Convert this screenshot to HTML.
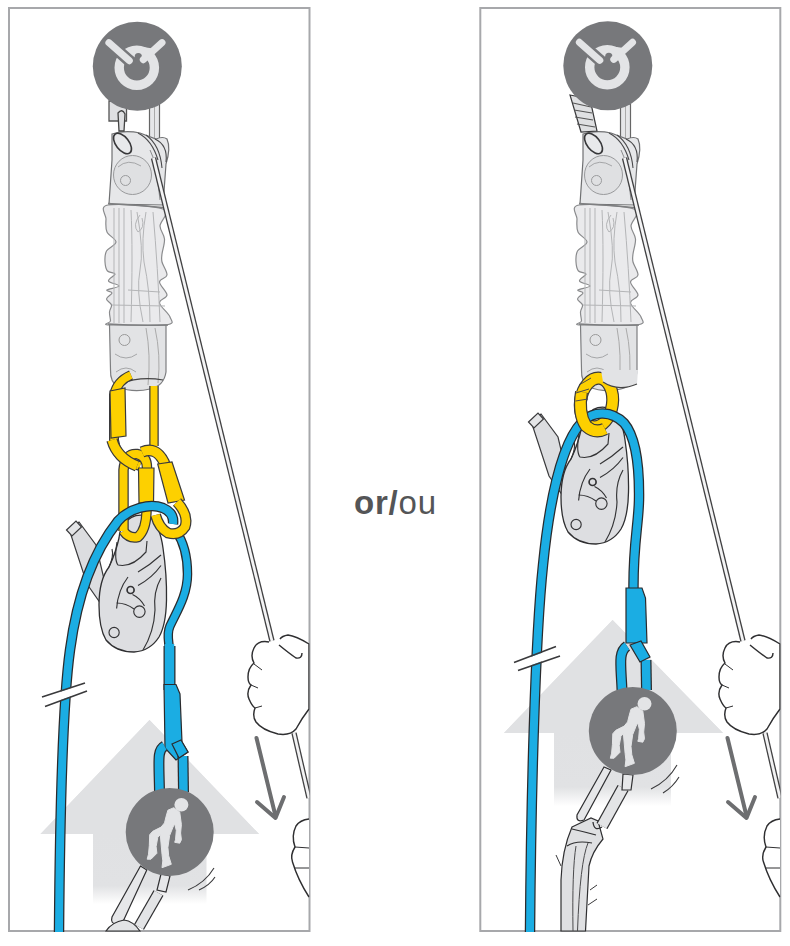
<!DOCTYPE html>
<html><head><meta charset="utf-8">
<style>
html,body{margin:0;padding:0;background:#fff;width:790px;height:946px;overflow:hidden}
svg{display:block;position:absolute;left:0;top:0}
.txt{position:absolute;left:354px;top:483px;font-family:"Liberation Sans",sans-serif;font-size:33px;color:#545557;letter-spacing:0.8px;white-space:nowrap;line-height:40px}
.txt b{font-weight:bold}
</style></head>
<body>
<svg width="790" height="946" viewBox="0 0 790 946">
<defs>
  <linearGradient id="fadeL" gradientUnits="userSpaceOnUse" x1="0" y1="834" x2="0" y2="904">
    <stop offset="0" stop-color="#e0e1e3"/>
    <stop offset="0.74" stop-color="#e1e2e4"/>
    <stop offset="1" stop-color="#ffffff"/>
  </linearGradient>
  <linearGradient id="fadeR" gradientUnits="userSpaceOnUse" x1="0" y1="733" x2="0" y2="806">
    <stop offset="0" stop-color="#e0e1e3"/>
    <stop offset="0.74" stop-color="#e1e2e4"/>
    <stop offset="1" stop-color="#ffffff"/>
  </linearGradient>

  <!-- anchor icon (centered at 0,0) -->
  <g id="anchor">
    <circle cx="0" cy="0" r="44.5" fill="#77787b"/>
    <circle cx="-0.5" cy="1.5" r="17.6" fill="none" stroke="#e3e4e6" stroke-width="9.4"/>
    <path d="M-11,-15 Q-2,-21 14,-18 L17,-13 Q8,-9 6,-6 Q2,-11 -3,-9 Z" fill="#e3e4e6"/>
    <circle cx="1" cy="-9.5" r="3.6" fill="#77787b"/>
    <line x1="-28.4" y1="-23.5" x2="-8" y2="-5.5" stroke="#77787b" stroke-width="12" stroke-linecap="round"/>
    <line x1="-28.4" y1="-23.5" x2="-8" y2="-5.5" stroke="#e3e4e6" stroke-width="7" stroke-linecap="round"/>
    <line x1="24.7" y1="-23.5" x2="6" y2="-6.5" stroke="#e3e4e6" stroke-width="7" stroke-linecap="round"/>
  </g>

  <!-- top device (left panel coords) -->
  <g id="device">
    <rect x="149.5" y="104" width="10" height="36" fill="#e6e7e9" stroke="#666" stroke-width="1.2"/>
    <line x1="154.5" y1="106" x2="154.5" y2="138" stroke="#aaa" stroke-width="1"/>
    <!-- sleeve -->
    <path d="M108.0,205.0 C98.5,206.7 106.2,214.5 106.0,219.0 C105.8,223.5 105.3,228.2 107.0,232.0 C108.7,235.8 116.1,238.8 116.0,242.0 C115.9,245.2 108.3,247.7 106.5,251.0 C104.7,254.3 104.8,258.7 105.0,262.0 C105.2,265.3 105.8,269.0 107.5,271.0 C109.2,273.0 114.8,272.3 115.0,274.0 C115.2,275.7 107.8,279.0 108.5,281.0 C109.2,283.0 119.2,284.5 119.0,286.0 C118.8,287.5 108.2,288.8 107.0,290.0 C105.8,291.2 112.1,291.5 112.0,293.0 C111.9,294.5 106.6,297.0 106.5,299.0 C106.4,301.0 111.0,302.8 111.5,305.0 C112.0,307.2 109.7,309.3 109.5,312.0 C109.3,314.7 110.5,318.8 110.5,321.0 C110.5,323.2 100.2,324.3 109.5,325.0 C118.8,325.7 155.9,326.3 166.0,325.0 C176.1,323.7 171.1,320.7 170.0,317.0 C168.9,313.3 160.0,306.7 159.5,303.0 C159.0,299.3 167.0,298.5 167.0,295.0 C167.0,291.5 159.5,285.3 159.5,282.0 C159.5,278.7 166.6,278.3 167.0,275.0 C167.4,271.7 162.8,265.5 162.0,262.0 C161.2,258.5 161.6,257.8 162.0,254.0 C162.4,250.2 164.8,243.7 164.5,239.0 C164.2,234.3 160.2,231.0 160.0,226.0 C159.8,221.0 171.7,212.5 163.0,209.0 C154.3,205.5 117.5,203.3 108.0,205.0 Z" fill="#eaeaec" stroke="#8a8b8d" stroke-width="1.2"/>
    <g stroke="#b4b5b7" stroke-width="1" fill="none">
      <line x1="114" y1="208" x2="114" y2="323"/>
      <line x1="119" y1="208" x2="119" y2="323"/>
      <line x1="124" y1="208" x2="124" y2="323"/>
      <path d="M131,210 Q133,250 131,322"/>
      <path d="M137,212 Q144,250 140,270 Q136,290 143,322"/>
      <path d="M146,212 Q141,240 144,262 Q150,290 150,322"/>
      <path d="M153,212 Q158,270 160,322"/>
      <path d="M140,215 Q132,225 138,232 Q145,228 142,218"/>
      <line x1="128" y1="290" x2="160" y2="292"/>
      <line x1="112" y1="305" x2="165" y2="306"/>
    </g>
    <!-- top section -->
    <path d="M112,134 Q125,130 140,133 L156,139 Q163,136 167,139 Q171,148 166,164 L163,205 L109,204 L112,160 Z" fill="#e6e7e9" stroke="#6f7072" stroke-width="1.2"/>
    <ellipse cx="132.5" cy="175" rx="19" ry="19.5" fill="#dfe0e2" stroke="#999a9c" stroke-width="1"/>
    <circle cx="125.5" cy="180.5" r="5" fill="none" stroke="#9a9b9d" stroke-width="1"/>
    <path d="M118,167 Q128,158 141,166" fill="none" stroke="#a5a6a8" stroke-width="1"/>
    <g fill="none" stroke="#4a4a4c" stroke-width="1.1">
      <path d="M138,133 Q152,140 158,160"/>
      <path d="M146,135 Q160,145 162,168"/>
      <path d="M155,139 Q168,145 166,162"/>
    </g>
    <path d="M150,150 Q156,160 160,200" fill="none" stroke="#8a8b8d" stroke-width="1"/>
    <ellipse cx="122.5" cy="143.5" rx="6.5" ry="12" transform="rotate(-38 122.5 143.5)" fill="#e8e9eb" stroke="#38383a" stroke-width="1.6"/>
    <path d="M108,203.5 Q135,205 163,207.5" fill="none" stroke="#7e7f81" stroke-width="1.3"/>
    <!-- bottom section -->
    <path d="M109.5,325 L166,325 L166,372 Q164,386 150,389 Q133,393 118,387 Q110,382 110.5,370 Z" fill="#e2e3e5" stroke="#7d7e80" stroke-width="1.2"/>
    <path d="M108,324 Q138,326 168,325" fill="none" stroke="#7e7f81" stroke-width="1.3"/>
    <circle cx="124.5" cy="340" r="5.5" fill="none" stroke="#999" stroke-width="1"/>
    <path d="M115,354 Q126,362 137,354 M116,372 Q126,364 136,372" fill="none" stroke="#a5a6a8" stroke-width="1"/>
    <path d="M146,328 Q151,355 148,385" fill="none" stroke="#aaa" stroke-width="1"/>
    <path d="M155,328 Q161,355 158,383" fill="none" stroke="#aaa" stroke-width="1"/>
    <path d="M120,384 Q140,376 163,380" fill="none" stroke="#444" stroke-width="1.2"/>
    <!-- thin rope -->
    <path d="M153.5,158 L272,641" stroke="#404042" stroke-width="5.4" fill="none"/>
    <path d="M153.5,158 L272,641" stroke="#f4f4f5" stroke-width="2.8" fill="none"/>
  </g>

  <clipPath id="handClip"><rect x="0" y="0" width="309.5" height="946"/></clipPath>
  <g id="hand">
   <g clip-path="url(#handClip)">
    <path d="M294,733 L309,798" stroke="#404042" stroke-width="5.4" fill="none"/>
    <path d="M294,733 L309,798" stroke="#f2f2f3" stroke-width="2.8" fill="none"/>
    <path d="M269,642 Q258,640 254,648 Q250,656 254,663 Q248,668 248,677 Q248,683 251,685 Q246,692 249,699 Q252,706 255,708 Q252,716 256,722 Q262,730 278,734 Q290,736 296,729 Q302,718 309,709 L309,644 Q296,636 288,635 Q282,636 280,639" fill="#fff" stroke="#2f2f31" stroke-width="1.45"/>
    <path d="M279,645 Q290,654 296,658 Q302,659 302,653" fill="none" stroke="#2f2f31" stroke-width="1.45"/>
    <path d="M254,664 L262,670 M251,685 L258,688 M255,708 L262,706" fill="none" stroke="#2f2f31" stroke-width="1"/>
    <path d="M309,819 Q300,820 296,826 Q291,836 295,847 Q290,855 292.5,862 Q298,880 309,897" fill="#fff" stroke="#2f2f31" stroke-width="1.45"/>
    <path d="M295,847 L309,848 M294,868 L309,868" stroke="#2f2f31" stroke-width="1"/>
    <path d="M256.5,738 L275.5,816" stroke="#6d6e70" stroke-width="4" fill="none" stroke-linecap="round"/>
    <path d="M257,802 L275.5,818 L284,797" stroke="#6d6e70" stroke-width="4" fill="none" stroke-linecap="round" stroke-linejoin="round"/>
    </g>
  </g>

  <!-- pulley device (left panel coords) -->
  <g id="pulley">
    <path d="M69,529 L79,522 L96,545 L108,596 L101,604 L87,584 Z" fill="#dcdde0" stroke="#3a3a3c" stroke-width="1.2"/>
    <path d="M66.5,530 L76,521 L81.5,527 L72,536 Z" fill="#e4e5e7" stroke="#3a3a3c" stroke-width="1.2"/>
    <path d="M124,524 Q134,511 150,517 Q160,526 163,548 Q167,575 166.5,600 Q166,625 159,637 Q150,651 134,652 Q116,652 106,640 Q99,628 99,605 Q99,580 109,567 Q116,552 119,538 Q120,528 124,524 Z" fill="#dddee1" stroke="#2f2f31" stroke-width="1.3"/>
    <g fill="none" stroke="#333335" stroke-width="1.15">
      <path d="M117,542 Q114,560 118,565 Q132,568 146,552 L147,541"/>
      <path d="M138,572 Q150,565 161,555"/>
      <path d="M138,585.5 Q152,578 161,565.5"/>
      <path d="M161,578 Q153,592 155,610 Q154,632 143,650"/>
      <path d="M128,577 Q118,590 116.6,608.5"/>
      <path d="M116.6,603 Q126,603 134,609"/>
      <path d="M132.5,594.5 Q140,598 144.5,606"/>
      <circle cx="130.6" cy="590" r="3.5" stroke-width="1.7"/>
      <circle cx="139.4" cy="611.6" r="5.7"/>
      <circle cx="114.1" cy="632.5" r="5.1"/>
      <path d="M109,567 Q114,556 112,549"/>
    </g>
  </g>

  <!-- person icon circle, centered 0,0 -->
  <g id="person">
    <circle cx="0" cy="0" r="44" fill="#77787b"/>
    <ellipse cx="11.7" cy="-27.3" rx="7" ry="6.8" fill="#e3e4e6"/>
    <path d="M4.1,-24.3 L-1.8,-21.8 L-3.5,-15.9 L-5.2,-9.1 L-8.6,-4.9 L-17.0,-0.7 L-20.0,2.7 L-20.4,13.7 L-21.2,22.2 L-22.5,27.2 L-18.7,27.2 L-12.8,21.3 L-13.6,14.6 L-11.9,5.3 L-9.4,2.7 L-8.6,12.0 L-7.7,22.2 L-6.9,28.9 L-7.7,35.7 L1.6,32.3 L-1.0,23.8 L-1.8,15.4 L-0.1,3.6 L3.3,-4.9 L5.0,-8.3 L6.6,-1.5 L5.8,7.8 L5.0,10.3 L10.0,11.2 L11.7,7.8 L10.9,1.0 L11.7,-7.4 L10.0,-20.1 L7.5,-21.8 Z" fill="#e3e4e6" stroke="#e3e4e6" stroke-width="1" stroke-linejoin="round"/>
  </g>
</defs>

<rect x="9" y="8" width="300.5" height="923" fill="none" stroke="#a7a8ab" stroke-width="2"/>
<rect x="480.3" y="8" width="300" height="923" fill="none" stroke="#a7a8ab" stroke-width="2"/>
<g id="LEFT">
  <!-- big arrow -->
  <path d="M149.5,720 L259,834 L206.5,834 L206.5,904 L93,904 L93,834 L40.5,834 Z" fill="url(#fadeL)"/>
  <path d="M149.5,720 L259,834 L40.5,834 Z" fill="#e0e1e3"/>
  <use href="#device"/>
  <!-- quick link under anchor -->
  <path d="M109,101 L126.5,101 L126.5,121 L109,121 Z" fill="#dfe0e2" stroke="#555" stroke-width="1.3"/>
  <path d="M118,113 Q122,108 125,114 L124,131 L119,131 Z" fill="#dfe0e2" stroke="#444" stroke-width="1.3"/>
  <use href="#hand"/>

  <!-- yellow carabiner 1 -->
  <path d="M131,375 Q117,381 114,395 L114,440 Q116,456 128,462 L140,466" fill="none" stroke="#3a3a3c" stroke-width="10" stroke-linecap="butt"/>
  <path d="M131,375 Q117,381 114,395 L114,440 Q116,456 128,462 L140,466" fill="none" stroke="#fdd000" stroke-width="7.5" stroke-linecap="butt"/>
  <path d="M154,386 L154,446" fill="none" stroke="#3a3a3c" stroke-width="9.5" stroke-linecap="butt"/>
  <path d="M154,386 L154,446" fill="none" stroke="#fdd000" stroke-width="7" stroke-linecap="butt"/>
  <path d="M110,391 L125,388 L126,436 L111,438 Z" fill="#fdd000" stroke="#3a3a3c" stroke-width="1.2"/>
  <use href="#pulley"/>
  <!-- yellow carabiner 2 -->
  <path d="M123.5,531 L123.5,470 Q125,453 137,454 Q147,456 147,468 L146.5,512 Q146,530 138,537 Q129,539 123.5,531" fill="none" stroke="#3a3a3c" stroke-width="10.5" stroke-linecap="butt"/>
  <path d="M123.5,531 L123.5,470 Q125,453 137,454 Q147,456 147,468 L146.5,512 Q146,530 138,537 Q129,539 123.5,531" fill="none" stroke="#fdd000" stroke-width="8" stroke-linecap="butt"/>
  <path d="M138.5,468 L154,468 L153.5,503 L139,503 Z" fill="#fdd000" stroke="#3a3a3c" stroke-width="1.2"/>
  <!-- carabiner 1 bottom band -->
  <path d="M112,440 Q117,458 137,466" fill="none" stroke="#3a3a3c" stroke-width="11.5" stroke-linecap="butt"/>
  <path d="M112,440 Q117,458 137,466" fill="none" stroke="#fdd000" stroke-width="9" stroke-linecap="butt"/>
  <!-- yellow carabiner 3 -->
  <path d="M142,452 Q156,446 164,462 L176,500" fill="none" stroke="#3a3a3c" stroke-width="11.5" stroke-linecap="butt"/>
  <path d="M142,452 Q156,446 164,462 L176,500" fill="none" stroke="#fdd000" stroke-width="9" stroke-linecap="butt"/>
  <path d="M157.7,464 L172,462 L184.5,500 L168,503 Z" fill="#fdd000" stroke="#3a3a3c" stroke-width="1.2"/>
  <!-- blue rope arch + left strand -->
  <path d="M59,932 C60,800 63,700 70,650 C78,590 95,550 118,521 C130,508 150,503 163,508 C170,511 174,516 173,524" fill="none" stroke="#2b2b2d" stroke-width="10.5"/>
  <path d="M59,932 C60,800 63,700 70,650 C78,590 95,550 118,521 C130,508 150,503 163,508 C170,511 174,516 173,524" fill="none" stroke="#1badE3" stroke-width="8"/>
  <!-- right strand -->
  <path d="M176,531 C183,541 187.5,556 187.5,574 C187.5,595 177,611 170,626 C166,635 169.5,642 169.5,652 L169.5,690" fill="none" stroke="#2b2b2d" stroke-width="9.5"/>
  <path d="M176,531 C183,541 187.5,556 187.5,574 C187.5,595 177,611 170,626 C166,635 169.5,642 169.5,652 L169.5,690" fill="none" stroke="#1badE3" stroke-width="7"/>
  <path d="M169.5,646 L169.5,690" fill="none" stroke="#2b2b2d" stroke-width="12"/>
  <path d="M169.5,644 L169.5,690" fill="none" stroke="#1badE3" stroke-width="9.5"/>
  <!-- hook of carabiner 3 -->
  <path d="M177,502 Q189,515 185,527 Q179,536 168,533 Q159,528 155.5,515" fill="none" stroke="#3a3a3c" stroke-width="11" stroke-linecap="butt"/>
  <path d="M177,502 Q189,515 185,527 Q179,536 168,533 Q159,528 155.5,515" fill="none" stroke="#fdd000" stroke-width="8.5" stroke-linecap="butt"/>

  <!-- termination -->
  <path d="M164,684.5 L176,684.5 L180,694 L182,742 L188,752 L176,760 L165,748 Z" fill="#1badE3" stroke="#2b2b2d" stroke-width="1.2"/>
  <path d="M164.5,746 C157,750 159,760 159.5,792" fill="none" stroke="#2b2b2d" stroke-width="11"/>
  <path d="M164.5,746 C157,750 159,760 159.5,792" fill="none" stroke="#1badE3" stroke-width="8.5"/>
  <path d="M183,756 L183.5,792" fill="none" stroke="#2b2b2d" stroke-width="11"/>
  <path d="M183,756 L183.5,792" fill="none" stroke="#1badE3" stroke-width="8.5"/>
  <path d="M172,744 L181,740 L188,752 L179,758 Z" fill="#1badE3" stroke="#2b2b2d" stroke-width="1.2"/>

  <!-- break marks -->
  <path d="M43.5,701.8 L86,687" stroke="#fff" stroke-width="8"/>
  <path d="M42,697 L85,683 M45,706.5 L87,691" stroke="#3a3a3c" stroke-width="1.6"/>

  <!-- lanyard -->
  <path d="M140.5,866 L112,917 Q110,924 117,924 L122.8,922 L146.8,870 Z" fill="#e6e7e9" stroke="#2f2f31" stroke-width="1.2"/>
  <path d="M158.5,893 L139,927" stroke="#2f2f31" stroke-width="11.5"/>
  <path d="M158.5,893 L139,927" stroke="#e3e4e6" stroke-width="9"/>
  <path d="M161,874 L170,876 L166,892 L157,890 Z" fill="#e6e7e9" stroke="#2f2f31" stroke-width="1.2"/>
  <path d="M106,931 Q112,922 124,920 Q133,921 140,931 Z" fill="#e3e4e6" stroke="#2f2f31" stroke-width="1.2"/>
  <path d="M188,890 Q205,883 214,868 M199,890 Q210,885 215,877" fill="none" stroke="#3a3a3c" stroke-width="1.1"/>

  <!-- person circle -->
  <use href="#person" x="169.7" y="832"/>
  <!-- anchor -->
  <use href="#anchor" x="137.3" y="66.2"/>
</g>

<g id="RIGHT">
  <path d="M612.6,620 L723,733 L671,733 L671,806 L554,806 L554,733 L504,733 Z" fill="url(#fadeR)"/>
  <path d="M612.6,620 L723,733 L504,733 Z" fill="#e0e1e3"/>
  <use href="#device" x="471"/>
  <!-- sling under anchor -->
  <path d="M570,95 L590,99 L597,131 L581,132 Z" fill="#dfe0e2" stroke="#3a3a3c" stroke-width="1.2"/>
  <path d="M573,103 L591,107 M574,110 L592,113 M575,117 L593,120 M577,124 L595,127" stroke="#555" stroke-width="1.2"/>
  <use href="#hand" x="471"/>

  <!-- pulley -->
  <use href="#pulley" x="462" y="-108"/>

  <!-- yellow ring back part -->
  <ellipse cx="596.5" cy="402.5" rx="16" ry="24.5" transform="rotate(8 596.5 402.5)" fill="none" stroke="#3a3a3c" stroke-width="13"/>
  <ellipse cx="596.5" cy="402.5" rx="16" ry="24.5" transform="rotate(8 596.5 402.5)" fill="none" stroke="#fdd000" stroke-width="10.6"/>

  <path d="M601,370 L603,382 Q618,392 637,384 L638,370 Z" fill="#e2e3e5"/>
  <path d="M603,382 Q618,392 637,384" fill="none" stroke="#444" stroke-width="1.2"/>
  <!-- blue rope -->
  <path d="M530,932 C531,800 535,640 543,565 C550,495 563,442 582,422 C594,410 612,411 624,423 C636,437 639.5,468 639,500 C638.5,525 633,545 633.5,590" fill="none" stroke="#2b2b2d" stroke-width="10.5"/>
  <path d="M530,932 C531,800 535,640 543,565 C550,495 563,442 582,422 C594,410 612,411 624,423 C636,437 639.5,468 639,500 C638.5,525 633,545 633.5,590" fill="none" stroke="#1badE3" stroke-width="8"/>

  <!-- ring front (left-bottom) part -->
  <path d="M581.5,392 Q578,414 586,426 Q595,434 605,429" fill="none" stroke="#3a3a3c" stroke-width="13"/>
  <path d="M581.5,392 Q578,414 586,426 Q595,434 605,429" fill="none" stroke="#fdd000" stroke-width="10.6"/>
  <path d="M579,385 L591,378 M576,393 L589,389 M575.5,401 L588,399" stroke="#4a4a4c" stroke-width="1"/>

  <!-- termination -->
  <path d="M626,588 L642,588 L645.5,598 L647,643 L626,643 Z" fill="#1badE3" stroke="#2b2b2d" stroke-width="1.2"/>
  <path d="M627,646 C618,652 621,665 622,690" fill="none" stroke="#2b2b2d" stroke-width="11"/>
  <path d="M627,646 C618,652 621,665 622,690" fill="none" stroke="#1badE3" stroke-width="8.5"/>
  <path d="M646,660 L646.5,690" fill="none" stroke="#2b2b2d" stroke-width="11"/>
  <path d="M646,660 L646.5,690" fill="none" stroke="#1badE3" stroke-width="8.5"/>
  <path d="M630,645 L641,641 L650,657 L640,662 Z" fill="#1badE3" stroke="#2b2b2d" stroke-width="1.2"/>

  <!-- break marks -->
  <path d="M516,666.5 L558,651.3" stroke="#fff" stroke-width="8"/>
  <path d="M514,662.5 L556,646.5 M518,670.5 L560,656" stroke="#3a3a3c" stroke-width="1.6"/>

  <!-- lanyard -->
  <path d="M572,827 L591,818 L598,821 L603,839 Q592,852 589,866 L585.5,931 L561,931 L561,880 Q562,850 572,827 Z" fill="#dfe0e2" stroke="#2f2f31" stroke-width="1.2"/>
  <path d="M576,846 Q572,870 573,931 M588,843 Q580,862 577.5,931" fill="none" stroke="#4a4a4c" stroke-width="1"/>
  <path d="M567,846 Q576,840 592,843 M572,829 Q585,832 596,835" fill="none" stroke="#2f2f31" stroke-width="1.1"/>
  <path d="M556,855 L561,866 M590,890 L597,885 M588,905 L597,899" stroke="#3a3a3c" stroke-width="1"/>
  <path d="M604,767 L577,815 Q576,823 584,820 L611,770 Z" fill="#e6e7e9" stroke="#2f2f31" stroke-width="1.2"/>
  <path d="M623,788 L602,826" stroke="#2f2f31" stroke-width="12.5"/>
  <path d="M623,788 L602,826" stroke="#e3e4e6" stroke-width="10"/>
  <path d="M623,774 L633,775 L631,790 L622,790 Z" fill="#e6e7e9" stroke="#2f2f31" stroke-width="1.2"/>
  <path d="M593,822 Q594,832 602,827" fill="none" stroke="#2f2f31" stroke-width="1.3"/>
  <path d="M651,789 Q668,781 677,765 M663,793 Q673,787 679,777" fill="none" stroke="#3a3a3c" stroke-width="1.1"/>

  <use href="#person" x="632.8" y="731"/>
  <use href="#anchor" x="607.8" y="65.8"/>
</g>

</svg>
<div class="txt"><b>or/</b>ou</div>
</body></html>
